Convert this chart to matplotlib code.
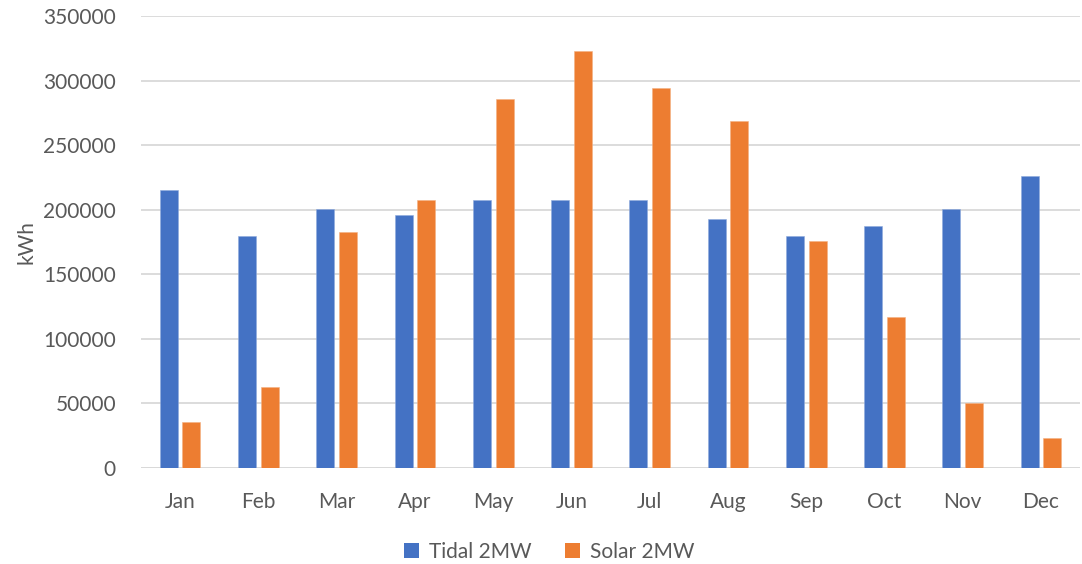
import matplotlib
matplotlib.use("Agg")
import matplotlib.pyplot as plt
import numpy as np
from matplotlib.patches import Patch

months = ["Jan", "Feb", "Mar", "Apr", "May", "Jun", "Jul", "Aug", "Sep", "Oct", "Nov", "Dec"]
tidal_2mw = [215500, 179900, 200500, 195600, 207500, 207500, 207200, 192800, 179900, 187400, 200500, 226100]
solar_2mw = [35600, 63000, 182500, 207200, 286000, 323200, 294200, 268400, 175500, 116900, 50600, 23000]
y_ticks = [0, 50000, 100000, 150000, 200000, 250000, 300000, 350000]

BLUE = "#4472C4"
ORANGE = "#ED7D31"
TEXT = "#595959"
GRID = "#D9D9D9"

plt.rcParams["font.family"] = ["Lato", "DejaVu Sans"]

fig = plt.figure(figsize=(10.82, 5.64), dpi=100)
ax = fig.add_axes([0.1303, 0.1702, 0.868, 0.8014])

x = np.arange(len(months))
w = 0.23
off = 0.145
ax.bar(x - off, tidal_2mw, width=w, color=BLUE, edgecolor="#8FAADC", linewidth=0.4, zorder=3)
ax.bar(x + off, solar_2mw, width=w, color=ORANGE, edgecolor="#F4B183", linewidth=0.4, zorder=3)

ax.set_xlim(-0.5, len(months) - 0.5)
ax.set_ylim(0, 350000)
ax.set_yticks(y_ticks)
ax.set_yticklabels([str(v) for v in y_ticks])
ax.set_xticks(x)
ax.set_xticklabels(months)
ax.yaxis.grid(True, color=GRID, linewidth=1.3, zorder=0)
ax.set_axisbelow(True)
for s in ax.spines.values():
    s.set_visible(False)
ax.axhline(0, color=GRID, linewidth=1.3, zorder=1)
ax.tick_params(axis="both", length=0, labelsize=15, colors=TEXT)
ax.tick_params(axis="y", pad=18)
ax.tick_params(axis="x", pad=17)
ax.set_ylabel("kWh", fontsize=15, color=TEXT, labelpad=5)

handles = [Patch(facecolor=BLUE), Patch(facecolor=ORANGE)]
fig.legend(handles, ["Tidal 2MW", "Solar 2MW"], loc="center", bbox_to_anchor=(0.508, 0.022),
           ncol=2, frameon=False, fontsize=15, labelcolor=TEXT,
           handlelength=0.7, handleheight=0.7, handletextpad=0.5, columnspacing=1.6)

fig.savefig("out.png", dpi=100)
